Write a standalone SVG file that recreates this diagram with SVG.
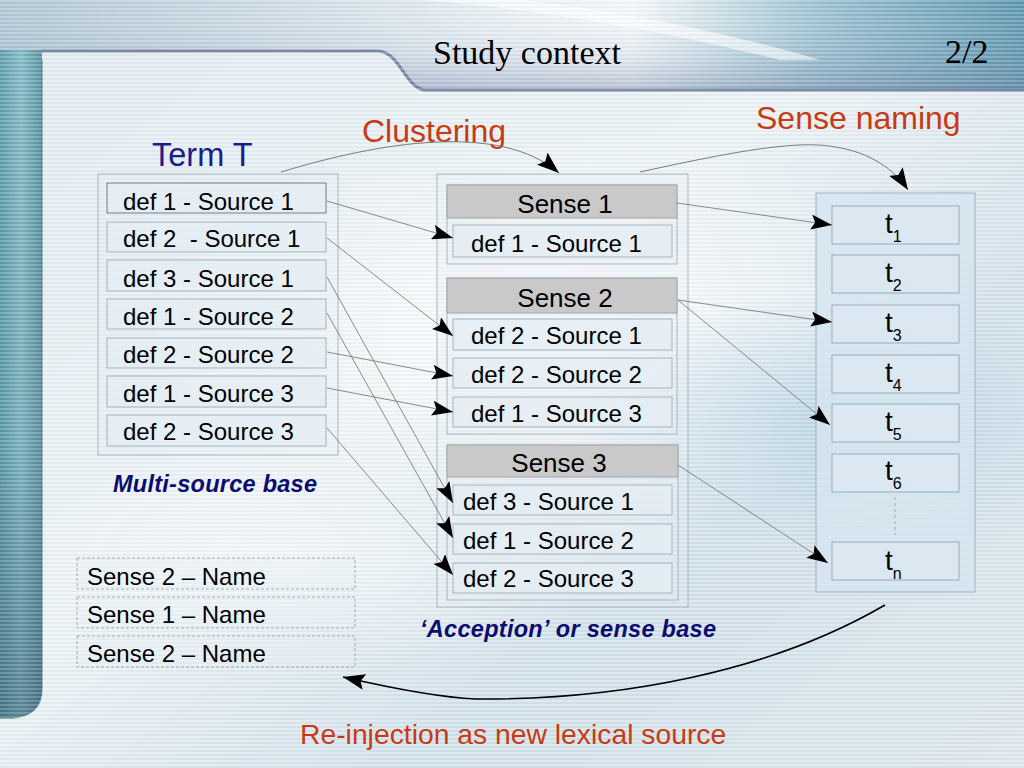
<svg xmlns="http://www.w3.org/2000/svg" width="1024" height="768" viewBox="0 0 1024 768">
<defs>
  <linearGradient id="bgG" x1="0" y1="0" x2="1" y2="1">
    <stop offset="0" stop-color="#e2ebf0"/>
    <stop offset="0.45" stop-color="#ecf2f5"/>
    <stop offset="0.7" stop-color="#d2e1ea"/>
    <stop offset="1" stop-color="#dee8ee"/>
  </linearGradient>
  <radialGradient id="glow" cx="0.5" cy="0.5" r="0.5">
    <stop offset="0" stop-color="#ffffff" stop-opacity="0.85"/>
    <stop offset="1" stop-color="#ffffff" stop-opacity="0"/>
  </radialGradient>
  <radialGradient id="blueGlow" cx="0.5" cy="0.5" r="0.5">
    <stop offset="0" stop-color="#b4d0e2" stop-opacity="0.75"/>
    <stop offset="1" stop-color="#b4d0e2" stop-opacity="0"/>
  </radialGradient>
  <linearGradient id="bandG" x1="0" y1="0" x2="1" y2="0">
    <stop offset="0" stop-color="#aec4d2"/>
    <stop offset="0.3" stop-color="#d0dde6"/>
    <stop offset="0.5" stop-color="#eaf0f4"/>
    <stop offset="0.62" stop-color="#f4f7f9"/>
    <stop offset="0.8" stop-color="#98bece"/>
    <stop offset="1" stop-color="#5692aa"/>
  </linearGradient>
  <linearGradient id="bandV" x1="0" y1="0" x2="0" y2="1">
    <stop offset="0" stop-color="#ffffff" stop-opacity="0"/>
    <stop offset="0.6" stop-color="#8a9cb8" stop-opacity="0.15"/>
    <stop offset="1" stop-color="#6a7ca0" stop-opacity="0.45"/>
  </linearGradient>
  <linearGradient id="barG" x1="0" y1="0" x2="1" y2="0">
    <stop offset="0" stop-color="#5a9aa8"/>
    <stop offset="0.5" stop-color="#80bac4"/>
    <stop offset="1" stop-color="#55909f"/>
  </linearGradient>
  <linearGradient id="barV" x1="0" y1="0" x2="0" y2="1">
    <stop offset="0" stop-color="#000000" stop-opacity="0"/>
    <stop offset="0.6" stop-color="#1a3a50" stop-opacity="0.1"/>
    <stop offset="1" stop-color="#1a3a50" stop-opacity="0.45"/>
  </linearGradient>
  <pattern id="stripes" width="8" height="4" patternUnits="userSpaceOnUse">
    <rect x="0" y="0" width="8" height="2" fill="#ffffff" opacity="0.22"/>
    <rect x="0" y="2" width="8" height="2" fill="#7a90a0" opacity="0.06"/>
  </pattern>
  <marker id="ah" markerUnits="userSpaceOnUse" markerWidth="21" markerHeight="15" refX="21" refY="7.5" orient="auto">
    <path d="M0,0 L21,7.5 L0,15 L4,7.5 z" fill="#000"/>
  </marker>
  <marker id="ahBig" markerUnits="userSpaceOnUse" markerWidth="22" markerHeight="16" refX="22" refY="8" orient="auto">
    <path d="M0,0 L22,8 L0,16 L4,8 z" fill="#000"/>
  </marker>
  <style>
    .lbl{font-family:"Liberation Sans",Arial,sans-serif;fill:#000;}
    .def{font-size:24px;}
    .sense{font-size:26px;}
    .item{fill:#e4eef4;fill-opacity:0.75;stroke:#a4b4c0;stroke-width:1;}
    .cont{fill:#e8f0f4;fill-opacity:0.3;stroke:#a8b6c0;stroke-width:1;}
    .head{fill:#c9c9c9;stroke:#a6a6a6;stroke-width:1;}
    .tbox{fill:#dbe8f1;stroke:#94acbc;stroke-width:1;}
    .name{fill:#e8f0f4;fill-opacity:0.3;stroke:#9aa4ac;stroke-width:0.9;stroke-dasharray:3,2;}
    .red{font-family:"Liberation Sans",Arial,sans-serif;fill:#c93a12;}
    .navy{font-family:"Liberation Sans",Arial,sans-serif;fill:#0c0c70;font-weight:bold;font-style:italic;font-size:23.5px;}
    .con{stroke:#6e6e6e;stroke-width:0.8;fill:none;marker-end:url(#ah);}
    .curve{stroke:#7a7a7a;stroke-width:1;fill:none;marker-end:url(#ahBig);}
    .tt{font-family:"Liberation Sans",Arial,sans-serif;font-size:28px;fill:#000;}
    .sub{font-size:16px;}
  </style>
</defs>

<!-- background -->
<rect x="0" y="0" width="1024" height="768" fill="url(#bgG)"/>
<ellipse cx="560" cy="330" rx="420" ry="200" fill="url(#glow)"/>
<ellipse cx="840" cy="420" rx="260" ry="130" fill="url(#blueGlow)"/>
<ellipse cx="300" cy="560" rx="300" ry="120" fill="url(#glow)" opacity="0.6"/>
<!-- top band -->
<path d="M0,0 H1024 V90 H425 C405,88 400,52 378,50 H0 Z" fill="url(#bandG)"/>
<path d="M0,0 H1024 V90 H425 C405,88 400,52 378,50 H0 Z" fill="url(#bandV)"/>
<path d="M420,0 C560,10 700,40 780,60 L820,60 C720,30 600,8 520,0 Z" fill="#ffffff" opacity="0.6"/>
<!-- panel edge shadow -->
<path d="M42,51 H378 C400,52 405,88 425,90 H1024" fill="none" stroke="#56638a" stroke-width="3" opacity="0.75"/>
<!-- left bar -->
<path d="M0,50 H42 V688 Q42,716 12,718 H0 Z" fill="url(#barG)"/>
<path d="M0,50 H42 V688 Q42,716 12,718 H0 Z" fill="url(#barV)"/>
<path d="M42,60 V688 Q42,716 12,718 H0" fill="none" stroke="#3e5e72" stroke-width="1.5" opacity="0.6"/>
<rect x="0" y="0" width="1024" height="768" fill="url(#stripes)"/>

<!-- title -->
<text x="433" y="64" font-family="Liberation Serif,'Times New Roman',serif" font-size="34" fill="#000">Study context</text>
<text x="945" y="63" font-family="Liberation Serif,'Times New Roman',serif" font-size="34" fill="#000">2/2</text>

<!-- labels -->
<text x="152" y="166" font-family="Liberation Sans,Arial,sans-serif" font-size="32.5" fill="#1c1c8c">Term T</text>
<text x="362" y="142" class="red" font-size="32">Clustering</text>
<text x="756" y="129" class="red" font-size="32">Sense naming</text>
<text x="113" y="492" class="navy" textLength="204">Multi-source base</text>
<text x="420" y="637" class="navy" textLength="296">‘Acception’ or sense base</text>
<text x="300" y="744" class="red" font-size="28.3">Re-injection as new lexical source</text>

<!-- Term T multi-source base -->
<g id="termT">
  <rect class="cont" x="98" y="174" width="240" height="281"/>
  <g id="t-d1s1"><rect class="item" x="107" y="183" width="219" height="30" style="stroke:#6e7e8a"/><text class="lbl def" x="123" y="210">def 1 - Source 1</text></g>
  <g id="t-d2s1"><rect class="item" x="107" y="222" width="219" height="30"/><text class="lbl def" x="123" y="247" xml:space="preserve">def 2  - Source 1</text></g>
  <g id="t-d3s1"><rect class="item" x="107" y="260" width="219" height="31"/><text class="lbl def" x="123" y="287">def 3 - Source 1</text></g>
  <g id="t-d1s2"><rect class="item" x="107" y="299" width="219" height="30"/><text class="lbl def" x="123" y="325">def 1 - Source 2</text></g>
  <g id="t-d2s2"><rect class="item" x="107" y="338" width="219" height="30"/><text class="lbl def" x="123" y="363">def 2 - Source 2</text></g>
  <g id="t-d1s3"><rect class="item" x="107" y="376" width="219" height="31"/><text class="lbl def" x="123" y="402">def 1 - Source 3</text></g>
  <g id="t-d2s3"><rect class="item" x="107" y="415" width="219" height="31"/><text class="lbl def" x="123" y="440">def 2 - Source 3</text></g>
</g>

<!-- sense base -->
<g id="senseBase">
  <rect class="cont" x="437" y="174" width="251" height="433"/>
  <g id="sense1">
    <rect class="cont" x="447" y="185" width="230" height="79"/>
    <rect class="head" x="447" y="185" width="230" height="33"/>
    <text class="lbl sense" x="565" y="213" text-anchor="middle">Sense 1</text>
    <rect class="item" x="453" y="225" width="219" height="32"/>
    <text class="lbl def" x="471" y="252">def 1 - Source 1</text>
  </g>
  <g id="sense2">
    <rect class="cont" x="447" y="278" width="230" height="156"/>
    <rect class="head" x="447" y="278" width="230" height="35"/>
    <text class="lbl sense" x="565" y="307" text-anchor="middle">Sense 2</text>
    <rect class="item" x="453" y="319" width="219" height="31"/>
    <text class="lbl def" x="471" y="344">def 2 - Source 1</text>
    <rect class="item" x="453" y="358" width="219" height="30"/>
    <text class="lbl def" x="471" y="383">def 2 - Source 2</text>
    <rect class="item" x="453" y="397" width="219" height="30"/>
    <text class="lbl def" x="471" y="422">def 1 - Source 3</text>
  </g>
  <g id="sense3">
    <rect class="cont" x="447" y="445" width="231" height="155"/>
    <rect class="head" x="447" y="445" width="231" height="32"/>
    <text class="lbl sense" x="559" y="472" text-anchor="middle">Sense 3</text>
    <rect class="item" x="453" y="485" width="219" height="30"/>
    <text class="lbl def" x="463" y="510">def 3 - Source 1</text>
    <rect class="item" x="453" y="524" width="219" height="30"/>
    <text class="lbl def" x="463" y="549">def 1 - Source 2</text>
    <rect class="item" x="453" y="563" width="219" height="30"/>
    <text class="lbl def" x="463" y="587">def 2 - Source 3</text>
  </g>
</g>

<!-- term names -->
<g id="termNames">
  <rect x="816" y="193" width="159" height="399" fill="#d6e5ef" fill-opacity="0.85" stroke="#9ab2c2" stroke-width="1"/>
  <g id="t1"><rect class="tbox" x="832" y="206" width="127" height="38"/><text class="tt" x="885" y="233">t<tspan class="sub" dy="9">1</tspan></text></g>
  <g id="t2"><rect class="tbox" x="832" y="255" width="127" height="38"/><text class="tt" x="885" y="282">t<tspan class="sub" dy="9">2</tspan></text></g>
  <g id="t3"><rect class="tbox" x="832" y="305" width="127" height="38"/><text class="tt" x="885" y="332">t<tspan class="sub" dy="9">3</tspan></text></g>
  <g id="t4"><rect class="tbox" x="832" y="355" width="127" height="38"/><text class="tt" x="885" y="382">t<tspan class="sub" dy="9">4</tspan></text></g>
  <g id="t5"><rect class="tbox" x="832" y="404" width="127" height="38"/><text class="tt" x="885" y="431">t<tspan class="sub" dy="9">5</tspan></text></g>
  <g id="t6"><rect class="tbox" x="832" y="454" width="127" height="38"/><text class="tt" x="885" y="480">t<tspan class="sub" dy="9">6</tspan></text></g>
  <line x1="895" y1="497" x2="895" y2="535" stroke="#a2aab2" stroke-width="1" stroke-dasharray="3,3"/>
  <g id="tn"><rect class="tbox" x="832" y="542" width="127" height="38"/><text class="tt" x="885" y="570">t<tspan class="sub" dy="9">n</tspan></text></g>
</g>

<!-- re-injected names -->
<g id="names">
  <g id="n1"><rect class="name" x="77" y="558" width="278" height="31"/><text class="lbl" font-size="24" x="87" y="585">Sense 2 – Name</text></g>
  <g id="n2"><rect class="name" x="77" y="597" width="278" height="31"/><text class="lbl" font-size="24" x="87" y="623">Sense 1 – Name</text></g>
  <g id="n3"><rect class="name" x="77" y="636" width="278" height="31"/><text class="lbl" font-size="24" x="87" y="662">Sense 2 – Name</text></g>
</g>

<!-- connectors -->
<g id="connectors">
  <line class="con" x1="327" y1="201" x2="453" y2="238"/>
  <line class="con" x1="327" y1="238" x2="453" y2="336"/>
  <line class="con" x1="327" y1="277" x2="453" y2="503"/>
  <line class="con" x1="327" y1="313" x2="453" y2="538"/>
  <line class="con" x1="327" y1="352" x2="453" y2="376"/>
  <line class="con" x1="327" y1="388" x2="453" y2="412"/>
  <line class="con" x1="327" y1="428" x2="453" y2="575"/>
  <line class="con" x1="677" y1="203" x2="832" y2="225"/>
  <line class="con" x1="678" y1="300" x2="832" y2="322"/>
  <line class="con" x1="678" y1="300" x2="830" y2="425"/>
  <line class="con" x1="678" y1="465" x2="828" y2="563"/>
  <path class="curve" d="M281,172 C380,142 500,122 559,173"/>
  <path class="curve" d="M640,172 C740,150 800,140 835,147 C870,152 895,170 908,190"/>
  <path d="M885,605 C770,672 620,700 476,699 Q430,697 343,677" fill="none" stroke="#000" stroke-width="1.6" marker-end="url(#ahBig)"/>
</g>
</svg>
